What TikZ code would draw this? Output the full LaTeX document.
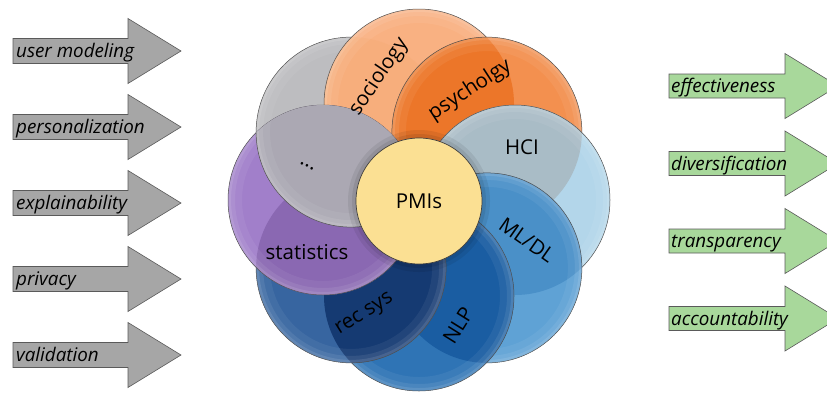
\documentclass[tikz,border=0pt]{standalone}
\usepackage{fontspec}
\setmainfont{Open Sans}

\definecolor{arrgray}{HTML}{A6A6A6}
\definecolor{arrgreen}{HTML}{A8D89B}
\definecolor{arrline}{HTML}{5A5A5A}
\definecolor{petalline}{HTML}{505050}
\definecolor{grayout}{HTML}{BDBDC0}
\definecolor{grayover}{HTML}{ABA8B3}
\definecolor{socout}{HTML}{F9B182}
\definecolor{socover}{HTML}{F7AE7C}
\definecolor{psyout}{HTML}{F3904F}
\definecolor{psyover}{HTML}{EC7629}
\definecolor{hciout}{HTML}{B3D6EA}
\definecolor{hciover}{HTML}{A9BCC6}
\definecolor{mlout}{HTML}{5FA2D5}
\definecolor{mlover}{HTML}{4A90C8}
\definecolor{nlpout}{HTML}{2F74B5}
\definecolor{nlpover}{HTML}{1A5DA2}
\definecolor{recout}{HTML}{3765A0}
\definecolor{recover}{HTML}{153A72}
\definecolor{statout}{HTML}{A17FCA}
\definecolor{statover}{HTML}{8A68B2}
\definecolor{pmifill}{HTML}{FBE093}

% light edge on a petal, three soft rings
\newcommand{\petalrim}[1]{%
  \draw[white,draw opacity=.06,line width=14pt] (#1) circle (88);
  \draw[white,draw opacity=.08,line width=7pt] (#1) circle (91.5);
  \draw[white,draw opacity=.10,line width=3pt] (#1) circle (93.5);
}

\begin{document}
\begin{tikzpicture}[x=1pt,y=-1pt,
    petal/.style={draw=petalline,line width=.5pt},
    lbl/.style={font=\fontsize{20.5}{23}\selectfont,text=black,inner sep=0pt},
    arrlbl/.style={font=\fontsize{18.8}{21}\selectfont\itshape,anchor=base west,inner sep=0pt},
    inarrow/.style={fill=arrgray,draw=arrline,line width=.6pt},
    outarrow/.style={fill=arrgreen,draw=arrline,line width=.6pt}]
    \useasboundingbox (0,0) rectangle (827,392);
    \clip (0,0) rectangle (827,392);

    % input arrows
    \begin{scope}[shift={(0,51)}]
      \draw[inarrow] (13,-12.5) -- (128,-12.5) -- (128,-32.5) -- (181,0)
        -- (128,32.5) -- (128,12.5) -- (13,12.5) -- cycle;
      \node[arrlbl] (tUser) at (16,6.5) {user modeling};
    \end{scope}
    \begin{scope}[shift={(0,127)}]
      \draw[inarrow] (13,-12.5) -- (128,-12.5) -- (128,-32.5) -- (181,0)
        -- (128,32.5) -- (128,12.5) -- (13,12.5) -- cycle;
      \node[arrlbl] (tPers) at (16,6.5) {personalization};
    \end{scope}
    \begin{scope}[shift={(0,203)}]
      \draw[inarrow] (13,-12.5) -- (128,-12.5) -- (128,-32.5) -- (181,0)
        -- (128,32.5) -- (128,12.5) -- (13,12.5) -- cycle;
      \node[arrlbl] (tExpl) at (16,6.5) {explainability};
    \end{scope}
    \begin{scope}[shift={(0,279)}]
      \draw[inarrow] (13,-12.5) -- (128,-12.5) -- (128,-32.5) -- (181,0)
        -- (128,32.5) -- (128,12.5) -- (13,12.5) -- cycle;
      \node[arrlbl] (tPriv) at (16,6.5) {privacy};
    \end{scope}
    \begin{scope}[shift={(0,355)}]
      \draw[inarrow] (13,-12.5) -- (128,-12.5) -- (128,-32.5) -- (181,0)
        -- (128,32.5) -- (128,12.5) -- (13,12.5) -- cycle;
      \node[arrlbl] (tVali) at (16,6.5) {validation};
    \end{scope}

    % output arrows
    \begin{scope}[shift={(0,86)}]
      \draw[outarrow] (669,-12) -- (785,-12) -- (785,-32.5) -- (838,0)
        -- (785,32.5) -- (785,12) -- (669,12) -- cycle;
      \node[arrlbl] (tEffe) at (671,6.5) {effectiveness};
    \end{scope}
    \begin{scope}[shift={(0,163.5)}]
      \draw[outarrow] (669,-12) -- (785,-12) -- (785,-32.5) -- (838,0)
        -- (785,32.5) -- (785,12) -- (669,12) -- cycle;
      \node[arrlbl] (tDive) at (671,6.5) {diversification};
    \end{scope}
    \begin{scope}[shift={(0,241)}]
      \draw[outarrow] (669,-12) -- (785,-12) -- (785,-32.5) -- (838,0)
        -- (785,32.5) -- (785,12) -- (669,12) -- cycle;
      \node[arrlbl] (tTran) at (671,6.5) {transparency};
    \end{scope}
    \begin{scope}[shift={(0,318.5)}]
      \draw[outarrow] (669,-12) -- (785,-12) -- (785,-32.5) -- (838,0)
        -- (785,32.5) -- (785,12) -- (669,12) -- cycle;
      \node[arrlbl] (tAcco) at (671,6.5) {accountability};
    \end{scope}

    % petal centres
    \coordinate (cPmi)  at (419,201);
    \coordinate (cHci)  at (515,200);
    \coordinate (cPsy)  at (486.9,132.1);
    \coordinate (cSoc)  at (419,104);
    \coordinate (cGray) at (351.1,132.1);
    \coordinate (cStat) at (323,200);
    \coordinate (cRec)  at (351.1,267.9);
    \coordinate (cNlp)  at (419,296);
    \coordinate (cMl)   at (486.9,267.9);

    % petals, each one over the one before
    \fill[grayout] (cGray) circle (95);
    \petalrim{cGray}
    \draw[petal] (cGray) circle (95);

    \fill[socout] (cSoc) circle (95);
    \begin{scope}
      \clip (cGray) circle (95);
      \fill[socover] (cSoc) circle (95);
    \end{scope}
    \petalrim{cSoc}
    \draw[petal] (cSoc) circle (95);

    \fill[psyout] (cPsy) circle (95);
    \begin{scope}
      \clip (cSoc) circle (95);
      \fill[psyover] (cPsy) circle (95);
    \end{scope}
    \petalrim{cPsy}
    \draw[petal] (cPsy) circle (95);

    \fill[hciout] (cHci) circle (95);
    \begin{scope}
      \clip (cPsy) circle (95);
      \fill[hciover] (cHci) circle (95);
    \end{scope}
    \petalrim{cHci}
    \draw[petal] (cHci) circle (95);

    \fill[mlout] (cMl) circle (95);
    \begin{scope}
      \clip (cHci) circle (95);
      \fill[mlover] (cMl) circle (95);
    \end{scope}
    \petalrim{cMl}
    \draw[petal] (cMl) circle (95);

    \fill[nlpout] (cNlp) circle (95);
    \begin{scope}
      \clip (cMl) circle (95);
      \fill[nlpover] (cNlp) circle (95);
    \end{scope}
    \petalrim{cNlp}
    \draw[petal] (cNlp) circle (95);

    \fill[recout] (cRec) circle (95);
    \begin{scope}
      \clip (cNlp) circle (95);
      \fill[recover] (cRec) circle (95);
    \end{scope}
    \petalrim{cRec}
    \draw[petal] (cRec) circle (95);

    \fill[statout] (cStat) circle (95);
    \begin{scope}
      \clip (cRec) circle (95);
      \fill[statover] (cStat) circle (95);
    \end{scope}
    \petalrim{cStat}
    \draw[petal] (cStat) circle (95);

    % grey one closes the ring over statistics
    \begin{scope}
      \clip (cStat) circle (95);
      \fill[grayover] (cGray) circle (95);
      \petalrim{cGray}
      \draw[petal] (cGray) circle (95);
    \end{scope}

    % soft shadow round the middle
    \fill[black,opacity=.07] (cPmi) circle (71);
    \fill[black,opacity=.08] (cPmi) circle (67);
    \node[circle,fill=pmifill,draw=black!75,line width=.7pt,minimum size=126pt,
      lbl] (pmi) at (cPmi) {PMIs};

    % petal labels
    \node[lbl,rotate=56]   (lSoc)  at (379,77)  {sociology};
    \node[lbl,rotate=33]   (lPsy)  at (470,90)  {psycholgy};
    \node[lbl]             (lHci)  at (522,147) {HCI};
    \node[lbl,rotate=-35]  (lMl)   at (527,240) {ML/DL};
    \node[lbl,rotate=58]   (lNlp)  at (458,325) {NLP};
    \node[lbl,rotate=32]   (lRec)  at (365,315) {rec sys};
    \node[lbl]             (lStat) at (307,252) {statistics};
    \node[lbl,rotate=-27]  (lDots) at (307,166) {...};
\end{tikzpicture}
\end{document}
